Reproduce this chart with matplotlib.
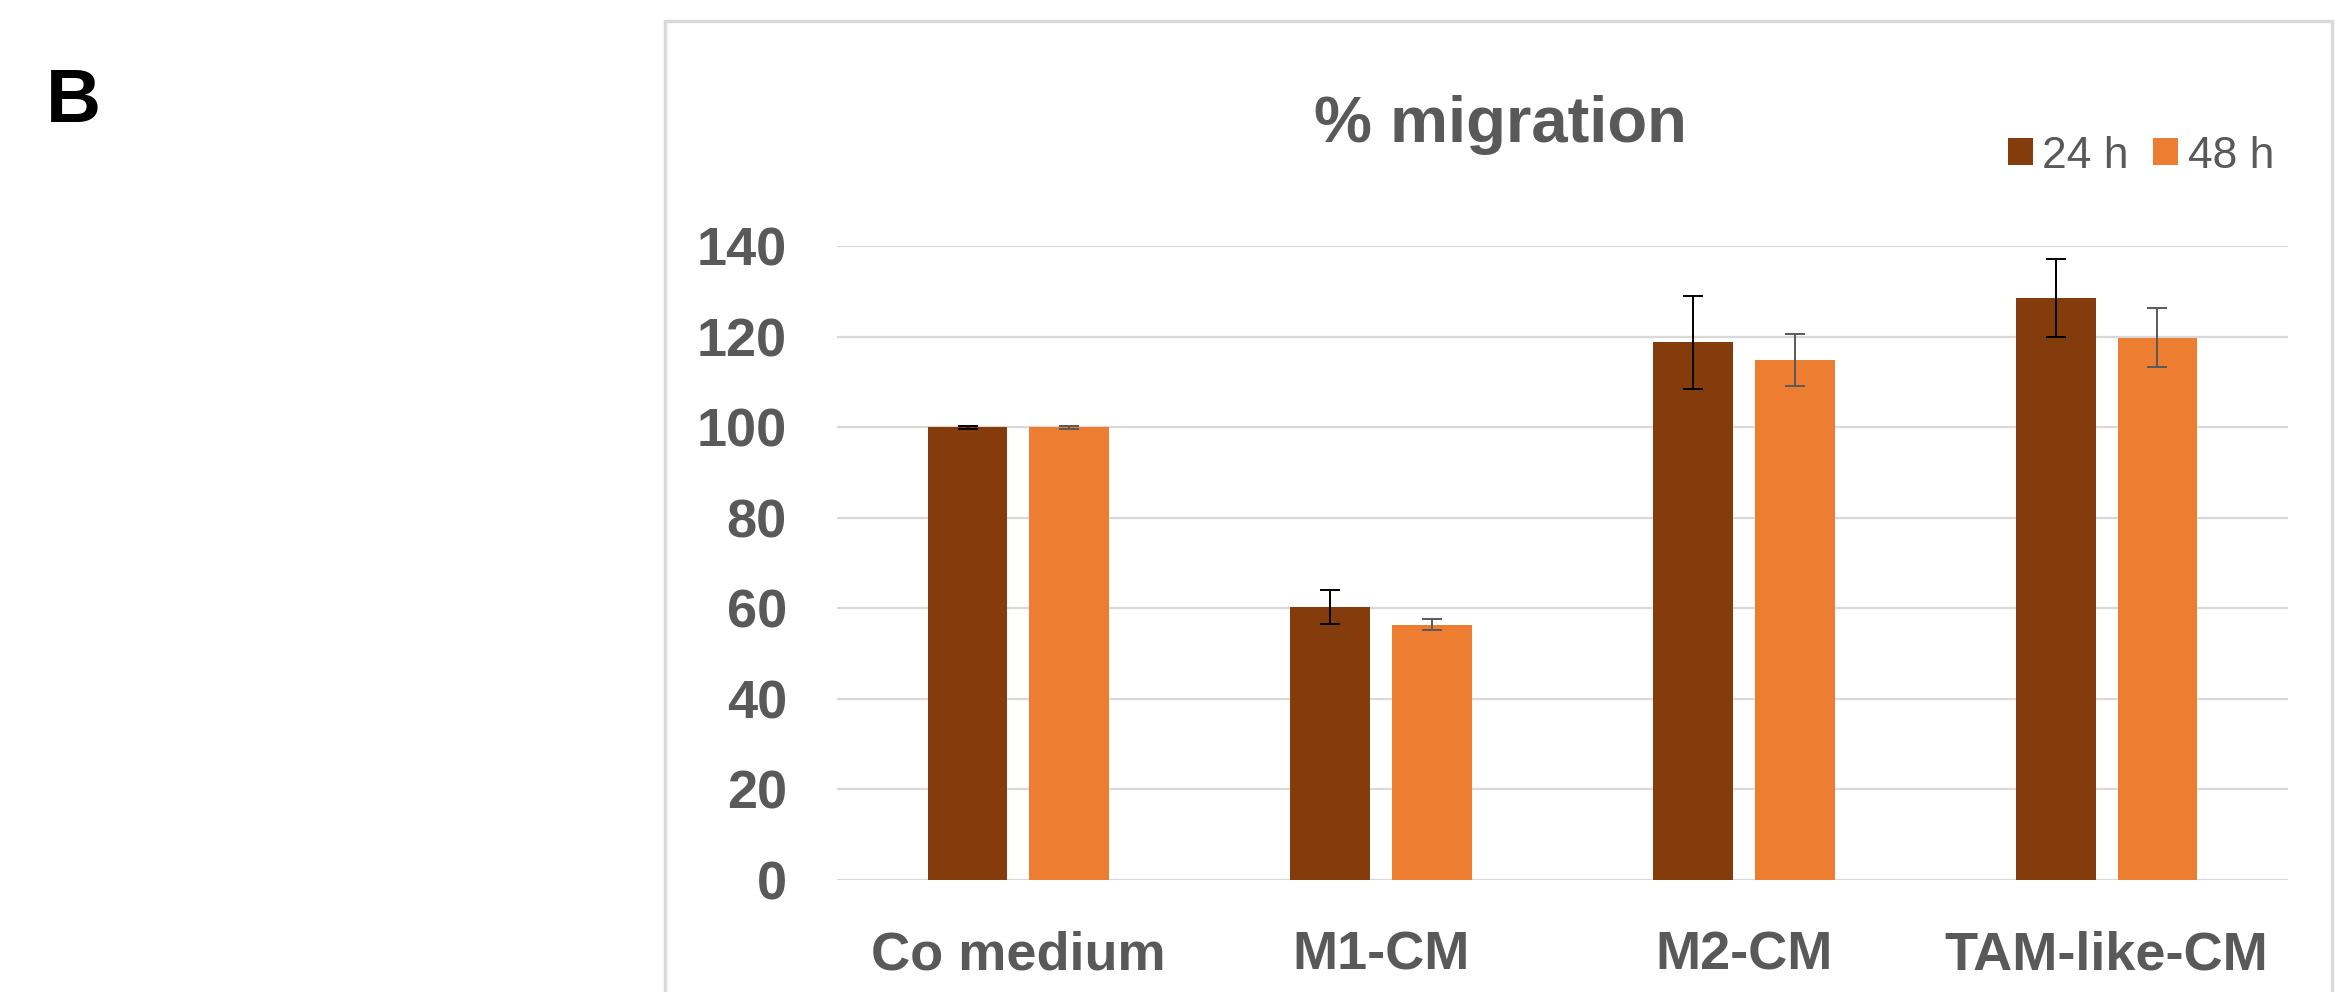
import matplotlib
matplotlib.use("Agg")
import matplotlib.pyplot as plt
import numpy as np
from matplotlib.patches import Rectangle

# data
categories = ["Co medium", "M1-CM", "M2-CM", "TAM-like-CM"]
series_names = ["24 h", "48 h"]
vals_24h = [100.0, 60.3, 118.7, 128.5]
err_24h = [0.3, 3.8, 10.3, 8.6]
vals_48h = [100.0, 56.4, 114.8, 119.7]
err_48h = [0.3, 1.3, 5.8, 6.5]
yticks = [0, 20, 40, 60, 80, 100, 120, 140]

c24 = "#843C0C"
c48 = "#ED7D31"
txt = "#595959"
grid = "#D9D9D9"

W, H = 2341, 992
fig = plt.figure(figsize=(W / 100, H / 100), dpi=100)
fig.patch.set_facecolor("white")

# chart frame (runs off the bottom of the image)
fig.patches.append(Rectangle((665 / W, -0.05), (2332 - 665) / W, 1.05 - 21 / H,
                             transform=fig.transFigure, fill=False,
                             edgecolor=grid, linewidth=2.5))

ax = fig.add_axes([837 / W, 1 - 880 / H, (2288 - 837) / W, (880 - 246) / H])

x = np.arange(len(categories))
bw = 0.22
off = 0.14
b1 = ax.bar(x - off, vals_24h, bw, color=c24, label=series_names[0], zorder=3)
b2 = ax.bar(x + off, vals_48h, bw, color=c48, label=series_names[1], zorder=3)
ax.errorbar(x - off, vals_24h, yerr=err_24h, fmt="none", ecolor="black",
            elinewidth=1.4, capsize=7.5, capthick=1.4, zorder=4)
ax.errorbar(x + off, vals_48h, yerr=err_48h, fmt="none", ecolor=txt,
            elinewidth=1.4, capsize=7.5, capthick=1.4, zorder=4)

ax.set_xlim(-0.5, len(categories) - 0.5)
ax.set_ylim(0, 140)
ax.set_yticks(yticks)
ax.set_yticklabels([str(t) for t in yticks])
ax.set_xticks(x)
ax.set_xticklabels(categories)
for s in ax.spines.values():
    s.set_visible(False)
ax.yaxis.grid(True, color=grid, linewidth=1.6, zorder=0)
ax.set_axisbelow(True)
ax.tick_params(axis="both", length=0, colors=txt)
ax.tick_params(axis="y", pad=36)
ax.tick_params(axis="x", pad=36)
for lab in ax.get_xticklabels() + ax.get_yticklabels():
    lab.set_fontfamily("Liberation Sans")
    lab.set_fontweight("bold")
    lab.set_fontsize(39)
    lab.set_color(txt)

fig.text(1500 / W, 1 - 142 / H, "% migration", ha="center", va="baseline",
         fontsize=47, fontweight="bold", color=txt, family="Liberation Sans")

fig.text(46 / W, 1 - 122 / H, "B", ha="left", va="baseline",
         fontsize=55, fontweight="bold", color="black", family="Liberation Sans")

leg = fig.legend(handles=[b1, b2], labels=series_names, loc="center",
                 bbox_to_anchor=(2141 / W, 1 - 156 / H), ncol=2, frameon=False,
                 prop={"family": "Liberation Sans", "size": 32},
                 handlelength=0.55, handleheight=0.55, handletextpad=0.22,
                 columnspacing=0.55, borderpad=0, borderaxespad=0)
for t in leg.get_texts():
    t.set_color(txt)

fig.savefig("out.png", dpi=100)
